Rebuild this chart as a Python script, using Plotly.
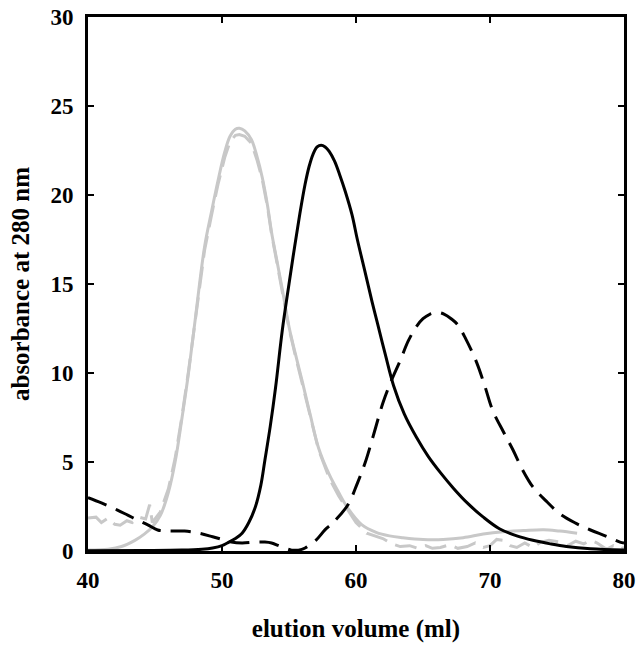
import plotly.graph_objects as go

# ---- data ----
gray_solid_x = [40, 41.5, 42.5, 43.5, 44.2, 44.8, 45.4, 46.0, 46.5, 47.0, 47.5, 48.0, 48.7, 49.2, 49.7, 50.2, 50.6, 51.0, 51.3, 51.7, 52.2, 52.6, 53.0, 53.4, 53.7, 54.1, 54.5, 55.0, 55.5, 56.0, 56.6, 57.2, 58.0, 58.7, 59.4, 60.4, 61.5, 62.5, 63.5, 65.0, 66.5, 68.0, 69.5, 71.0, 72.5, 74.0, 75.2, 76.5]
gray_solid_y = [0.05, 0.1, 0.25, 0.6, 0.95, 1.35, 2.0, 3.3, 5.0, 7.4, 10.0, 13.0, 17.1, 19.0, 20.8, 22.4, 23.3, 23.7, 23.75, 23.6, 23.1, 22.2, 21.0, 19.4, 17.9, 16.3, 14.7, 12.6, 11.0, 9.5, 7.6, 5.8, 4.3, 3.3, 2.4, 1.5, 1.05, 0.85, 0.75, 0.65, 0.65, 0.75, 0.95, 1.08, 1.15, 1.2, 1.12, 1.0]

gray_dash_x = [40, 40.6, 41.0, 41.5, 42.0, 42.4, 42.9, 43.3, 43.8, 44.3, 44.6, 44.8, 45.4, 46.0, 46.5, 47.0, 47.5, 48.0, 48.7, 49.2, 49.7, 50.2, 50.6, 51.0, 51.3, 51.7, 52.2, 52.6, 53.0, 53.4, 53.7, 54.1, 54.5, 55.0, 55.5, 56.0, 56.6, 57.2, 58.0, 58.7, 59.4, 60.0, 60.8, 61.4, 62.0, 62.7, 63.3, 64.0, 64.6, 65.2, 65.7, 66.3, 67.0, 67.6, 68.3, 68.9, 69.5, 70.0, 70.5, 71.0, 71.5, 72.0, 72.6, 73.2, 73.8, 74.4, 75.2, 75.8, 76.4, 77.0, 77.5, 78.0, 78.7, 79.2, 79.7, 80.0]
gray_dash_y = [1.85, 1.9, 1.6, 1.85, 1.5, 1.45, 1.7, 1.6, 1.9, 1.8, 2.6, 1.6, 2.2, 3.5, 5.2, 7.5, 10.1, 13.0, 16.9, 18.8, 20.6, 22.1, 23.0, 23.35, 23.4, 23.3, 22.9, 22.0, 20.9, 19.3, 17.8, 16.2, 14.6, 12.5, 10.9, 9.4, 7.5, 5.7, 4.1, 3.1, 2.3, 1.6, 1.0, 0.85, 0.7, 0.4, 0.25, 0.3, 0.15, 0.3, 0.15, 0.2, 0.35, 0.15, 0.25, 0.45, 0.2, 0.3, 0.65, 0.6, 0.3, 0.2, 0.45, 0.2, 0.5, 0.6, 0.5, 0.3, 0.55, 0.4, 0.6, 0.45, 0.1, 0.3, 0.1, 0.2]

black_solid_x = [40, 44, 47, 48.5, 49.3, 50.0, 50.4, 51.0, 51.5, 52.0, 52.5, 52.9, 53.2, 53.6, 54.0, 54.5, 55.0, 55.4, 55.8, 56.2, 56.5, 56.8, 57.1, 57.4, 57.7, 58.0, 58.4, 58.8, 59.2, 59.7, 60.1, 60.7, 61.2, 61.6, 62.2, 62.8, 63.6, 64.5, 65.4, 66.3, 67.3, 68.3, 69.5, 70.7, 72.0, 73.2, 74.5, 75.7, 77.5, 80.0]
black_solid_y = [0.02, 0.03, 0.05, 0.1, 0.17, 0.3, 0.45, 0.7, 1.0, 1.6, 2.5, 3.7, 5.1, 7.0, 9.2, 12.4, 15.0, 17.0, 18.9, 20.6, 21.6, 22.3, 22.7, 22.8, 22.7, 22.45, 21.9, 21.1, 20.2, 18.9, 17.5, 15.6, 14.0, 12.8, 11.0, 9.3, 7.7, 6.4, 5.3, 4.4, 3.5, 2.7, 1.9, 1.25, 0.85, 0.6, 0.4, 0.25, 0.12, 0.05]

black_dash_x = [40, 41.0, 42.2, 43.0, 43.7, 44.5, 45.2, 46.0, 47.2, 48.3, 49.3, 50.0, 50.7, 51.5, 52.5, 53.2, 53.7, 54.4, 55.2, 55.7, 56.2, 57.0, 57.7, 58.3, 59.4, 60.1, 60.7, 61.3, 62.0, 62.6, 63.3, 63.9, 64.5, 65.0, 65.5, 66.1, 66.6, 67.1, 67.6, 68.2, 69.0, 69.6, 70.2, 71.0, 71.7, 72.4, 73.2, 74.2, 75.2, 76.3, 77.5, 78.6, 79.7, 80.0]
black_dash_y = [3.0, 2.7, 2.3, 2.0, 1.74, 1.45, 1.18, 1.12, 1.12, 1.0, 0.8, 0.65, 0.5, 0.45, 0.5, 0.5, 0.45, 0.25, 0.05, 0.05, 0.17, 0.6, 1.2, 1.6, 2.6, 3.8, 5.0, 6.5, 8.3, 9.5, 10.7, 11.8, 12.6, 13.05, 13.3, 13.4, 13.3, 13.05, 12.7, 11.9, 10.6, 9.3, 7.9, 6.7, 5.7, 4.6, 3.6, 2.8, 2.1, 1.6, 1.18, 0.85, 0.5, 0.45]

x_ticks = [40, 50, 60, 70, 80]
y_ticks = [0, 5, 10, 15, 20, 25, 30]

GRAY = "#c8c8c8"
FONT = "Liberation Serif"

fig = go.Figure()
fig.add_trace(go.Scatter(x=gray_dash_x, y=gray_dash_y, mode="lines",
                         line=dict(color=GRAY, width=3, dash="22px,9px"), showlegend=False))
fig.add_trace(go.Scatter(x=gray_solid_x, y=gray_solid_y, mode="lines", line_shape="spline",
                         line=dict(color=GRAY, width=3), showlegend=False))
fig.add_trace(go.Scatter(x=black_dash_x, y=black_dash_y, mode="lines", line_shape="spline",
                         line=dict(color="black", width=3, dash="20px,10px"), showlegend=False))
fig.add_trace(go.Scatter(x=black_solid_x, y=black_solid_y, mode="lines", line_shape="spline",
                         line=dict(color="black", width=3), showlegend=False))

axis_common = dict(showline=True, linecolor="black", linewidth=3, mirror="ticks",
                   ticks="inside", ticklen=6, tickwidth=2, tickcolor="black",
                   showgrid=False, zeroline=False, automargin=False,
                   ticklabeloverflow="allow",
                   tickfont=dict(family=FONT, size=23, color="black"))

fig.update_xaxes(range=[40, 80], tickvals=x_ticks, ticktext=[f"<b>{v}</b>" for v in x_ticks],
                 title=dict(text="<b>elution volume (ml)</b>", font=dict(family=FONT, size=25, color="black"), standoff=28),
                 ticklabelstandoff=6, **axis_common)
fig.update_yaxes(range=[0, 30], tickvals=y_ticks, ticktext=[f"<b>{v}</b>" for v in y_ticks],
                 title=dict(text="<b>absorbance at 280 nm</b>", font=dict(family=FONT, size=25, color="black"), standoff=14),
                 ticklabelstandoff=7, **axis_common)

fig.update_layout(width=643, height=649, margin=dict(l=88, r=19, t=17, b=98),
                  paper_bgcolor="white", plot_bgcolor="white",
                  font=dict(family=FONT, color="black"))

# remove the default 8px page margin so the figure fills the window exactly
fig.write_html("out.html", config={"displayModeBar": False},
               post_script="document.body.style.margin='0';")
